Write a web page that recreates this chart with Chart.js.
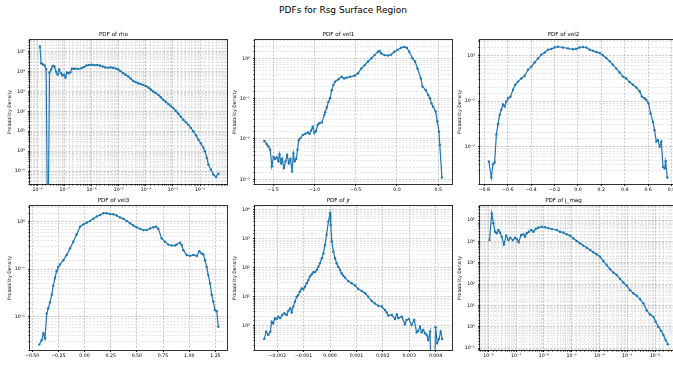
<!DOCTYPE html>
<html><head><meta charset="utf-8">
<script src="https://cdn.jsdelivr.net/npm/chart.js@4"></script>
<style>
html,body{margin:0;padding:0;background:#fff;overflow:hidden;}
#wrap{position:relative;width:673px;height:365px;overflow:hidden;background:#fff;}
#title{position:absolute;left:0;width:686px;top:5px;line-height:10px;text-align:center;font-family:"DejaVu Sans";font-size:9px;color:#000;}
canvas{position:absolute;}
</style></head><body>
<div id="wrap"><div id="title">PDFs for Rsg Surface Region</div></div>
<script>
// ---- data ----
const rhoX = [1.22e-8,1.35e-8,1.58e-8,1.82e-8,2.07e-8,2.4e-8,2.75e-8,3.16e-8,3.63e-8,4.17e-8,4.79e-8,5.5e-8,6.3e-8,7.24e-8,8.3e-8,9.55e-8,1.07e-7,1.23e-7,1.41e-7,1.62e-7,1.86e-7,2.14e-7,2.51e-7,3.16e-7,3.98e-7,5.0e-7,6.3e-7,7.9e-7,1.0e-6,1.26e-6,1.58e-6,2.0e-6,2.51e-6,3.16e-6,3.98e-6,5.0e-6,6.3e-6,7.9e-6,9.5e-6,1.17e-5,1.45e-5,1.78e-5,2.24e-5,2.75e-5,3.39e-5,4.17e-5,5.25e-5,6.46e-5,7.9e-5,1.0e-4,1.23e-4,1.51e-4,1.86e-4,2.29e-4,2.88e-4,3.55e-4,4.37e-4,5.37e-4,6.76e-4,8.3e-4,1.02e-3,1.26e-3,1.58e-3,1.95e-3,2.4e-3,3.02e-3,3.72e-3,4.57e-3,5.6e-3,7.1e-3,8.7e-3,1.07e-2,1.32e-2,1.51e-2,1.78e-2,2.04e-2,2.51e-2,3.09e-2,3.89e-2,4.79e-2];
const rhoY = [1.8e5,2.6e4,2.3e4,2.0e4,1.3e4,0,8.9e3,1.26e4,1.9e4,1.8e4,1.0e4,7.1e3,1.26e4,8.3e3,6.3e3,6.9e3,5.0e3,8.9e3,8.3e3,9.1e3,1.41e4,1.38e4,1.41e4,1.35e4,1.45e4,1.66e4,2.0e4,2.14e4,2.2e4,2.1e4,2.14e4,2.0e4,1.8e4,1.62e4,1.58e4,1.62e4,1.55e4,1.41e4,1.26e4,1.05e4,8.3e3,6.9e3,5.6e3,4.4e3,3.4e3,2.95e3,2.6e3,2.34e3,2.14e3,1.86e3,1.58e3,1.26e3,1.0e3,832,676,513,380,302,234,186,148,107,76,54,38,28,21,14.8,10,6.3,3.8,2.5,1.5,1.0,0.47,0.21,0.12,0.068,0.05,0.074];

const vel1X = [-1.606,-1.577,-1.557,-1.536,-1.516,-1.496,-1.476,-1.456,-1.435,-1.423,-1.403,-1.39,-1.37,-1.35,-1.33,-1.31,-1.29,-1.27,-1.255,-1.24,-1.22,-1.205,-1.19,-1.17,-1.14,-1.11,-1.08,-1.06,-1.04,-1.02,-1.0,-0.98,-0.96,-0.94,-0.91,-0.88,-0.87,-0.85,-0.83,-0.81,-0.79,-0.77,-0.75,-0.71,-0.67,-0.64,-0.61,-0.57,-0.51,-0.47,-0.43,-0.39,-0.35,-0.31,-0.27,-0.23,-0.21,-0.19,-0.15,-0.11,-0.07,-0.03,0.01,0.05,0.09,0.12,0.15,0.19,0.22,0.25,0.29,0.31,0.35,0.38,0.40,0.42,0.44,0.47,0.49,0.51,0.52,0.546];
const vel1Y = [0.0089,0.0074,0.0065,0.0054,0.0021,0.0036,0.0032,0.0035,0.0028,0.0042,0.0025,0.0032,0.0019,0.0028,0.0040,0.0025,0.0032,0.00155,0.0044,0.0028,0.0032,0.0054,0.0093,0.0105,0.0126,0.0135,0.0145,0.0135,0.0162,0.020,0.0141,0.0158,0.0224,0.0245,0.0257,0.039,0.046,0.060,0.083,0.102,0.162,0.219,0.263,0.302,0.347,0.316,0.331,0.347,0.372,0.427,0.562,0.676,0.832,1.0,1.20,1.45,1.51,1.32,1.20,1.17,1.23,1.45,1.62,1.82,1.91,1.82,1.45,1.0,0.83,0.56,0.316,0.20,0.162,0.123,0.102,0.076,0.063,0.048,0.027,0.0151,0.0071,0.0011];

const vel2X = [-0.761,-0.740,-0.726,-0.712,-0.697,-0.683,-0.669,-0.655,-0.640,-0.626,-0.612,-0.597,-0.577,-0.555,-0.535,-0.512,-0.484,-0.455,-0.427,-0.398,-0.370,-0.341,-0.313,-0.284,-0.256,-0.227,-0.199,-0.170,-0.128,-0.085,-0.043,-0.014,0.014,0.043,0.071,0.100,0.128,0.157,0.185,0.214,0.242,0.271,0.299,0.328,0.356,0.385,0.413,0.442,0.470,0.499,0.527,0.547,0.570,0.584,0.604,0.621,0.641,0.655,0.670,0.684,0.698,0.713,0.727,0.741,0.750,0.764];
const vel2Y = [0.0047,0.0021,0.0041,0.0045,0.0186,0.031,0.050,0.065,0.085,0.076,0.098,0.115,0.126,0.178,0.229,0.269,0.316,0.363,0.49,0.575,0.71,0.87,1.05,1.17,1.35,1.41,1.51,1.58,1.51,1.45,1.38,1.41,1.51,1.55,1.51,1.35,1.29,1.20,1.15,1.02,0.89,0.76,0.63,0.525,0.427,0.347,0.316,0.263,0.229,0.20,0.166,0.126,0.115,0.107,0.089,0.054,0.035,0.023,0.0129,0.0141,0.010,0.0129,0.0036,0.0033,0.0048,0.0021];

const vel3X = [-0.432,-0.409,-0.393,-0.377,-0.361,-0.346,-0.330,-0.313,-0.298,-0.282,-0.266,-0.250,-0.234,-0.202,-0.170,-0.138,-0.107,-0.075,-0.043,-0.011,0.021,0.053,0.084,0.117,0.148,0.180,0.212,0.244,0.275,0.308,0.339,0.371,0.403,0.435,0.466,0.499,0.530,0.562,0.594,0.626,0.657,0.683,0.705,0.737,0.769,0.800,0.833,0.864,0.880,0.912,0.928,0.944,0.976,1.008,1.039,1.072,1.096,1.119,1.135,1.151,1.167,1.182,1.199,1.215,1.230,1.246,1.263,1.278];
const vel3Y = [0.0026,0.0032,0.0045,0.0035,0.0117,0.0151,0.020,0.029,0.045,0.066,0.091,0.112,0.126,0.155,0.20,0.275,0.38,0.537,0.785,0.88,0.955,1.035,1.15,1.29,1.38,1.51,1.51,1.45,1.43,1.35,1.23,1.15,1.035,0.93,0.83,0.76,0.71,0.67,0.67,0.72,0.76,0.79,0.71,0.447,0.38,0.33,0.316,0.316,0.33,0.363,0.324,0.251,0.20,0.19,0.20,0.19,0.24,0.214,0.204,0.155,0.112,0.076,0.050,0.029,0.021,0.0138,0.0132,0.0062];

const jrX = [-0.00249,-0.00242,-0.00234,-0.00226,-0.00221,-0.00215,-0.00208,-0.00202,-0.00196,-0.00189,-0.00181,-0.00173,-0.00164,-0.00158,-0.00150,-0.00145,-0.00139,-0.00133,-0.00126,-0.00120,-0.00114,-0.00107,-0.00101,-0.00095,-0.00088,-0.00082,-0.00076,-0.00069,-0.00063,-0.00057,-0.00050,-0.00044,-0.00038,-0.00031,-0.00025,-0.00019,-0.00013,-0.00006,0.0,0.00003,0.00007,0.00013,0.00019,0.00025,0.00031,0.00038,0.00044,0.00050,0.00057,0.00069,0.00082,0.00095,0.00107,0.00120,0.00133,0.00145,0.00158,0.00170,0.00183,0.00196,0.00208,0.00215,0.00221,0.00234,0.00246,0.00253,0.00259,0.00272,0.00284,0.00290,0.00299,0.00309,0.00319,0.00328,0.00334,0.00341,0.00347,0.00353,0.00360,0.00366,0.00372,0.00379,0.00388,0.00400,0.00406,0.00413,0.00419,0.00425];
const jrY = [0.35,0.62,0.48,0.62,1.38,1.20,1.82,1.70,2.04,1.82,2.34,2.69,2.34,3.24,3.98,2.88,4.57,6.76,10,11.5,15.1,19.5,18.2,22.4,29.5,38,50,60,71,71,85,110,145,214,316,617,1380,3980,7760,3020,813,363,214,145,110,85,65,54,46,35,29.5,24.5,18.6,15.8,13.2,10,7.1,5.9,4.9,4.6,3.47,2.88,2.24,2.34,1.70,2.45,1.82,2.04,1.12,1.58,1.70,1.05,1.58,0.59,0.66,0.93,0.59,0.71,0.55,0.48,0.32,0.62,0,0.89,0.25,0.35,0.62,0.35];

const jmagX = [1.10e-8,1.32e-8,1.51e-8,1.74e-8,2.0e-8,2.29e-8,2.63e-8,3.02e-8,3.63e-8,4.37e-8,5.25e-8,6.17e-8,7.59e-8,9.12e-8,1.07e-7,1.23e-7,1.51e-7,1.82e-7,2.09e-7,2.40e-7,2.88e-7,3.47e-7,4.17e-7,5.13e-7,6.31e-7,8.3e-7,1.10e-6,1.45e-6,1.91e-6,2.88e-6,3.80e-6,5.0e-6,6.6e-6,8.7e-6,1.15e-5,1.51e-5,2.0e-5,2.63e-5,3.47e-5,4.57e-5,6.0e-5,7.9e-5,1.05e-4,1.38e-4,1.82e-4,2.40e-4,3.16e-4,4.17e-4,5.5e-4,7.2e-4,9.5e-4,1.26e-3,1.66e-3,2.19e-3,2.88e-3,3.80e-3,5.0e-3,6.6e-3,8.7e-3,1.05e-2,1.32e-2,1.66e-2,2.0e-2,2.40e-2,2.88e-2];
const jmagY = [1.15e4,2.04e5,7.1e4,2.8e4,2.4e4,3.4e4,2.6e4,1.66e4,7.2e3,1.86e4,1.15e4,1.48e4,1.15e4,1.48e4,1.26e4,9.1e3,2.0e4,2.14e4,1.66e4,2.4e4,2.8e4,3.4e4,2.8e4,3.9e4,4.4e4,4.9e4,4.6e4,4.1e4,3.8e4,3.4e4,2.8e4,2.6e4,2.14e4,1.86e4,1.38e4,1.05e4,8.1e3,6.3e3,5.1e3,4.0e3,3.1e3,2.5e3,1.9e3,1.2e3,776,501,347,269,174,120,85,52,37,29,20,12.6,6.0,3.8,2.95,1.74,1.0,0.65,0.42,0.245,0.155];

const panelTitles = ['PDF of rho','PDF of vel1','PDF of vel2','PDF of vel3','PDF of jr','PDF of j_mag'];
const yAxisTitle = 'Probability Density';
const suptitle = 'PDFs for Rsg Surface Region';

// ---- axis ranges / tick steps ----
const xRanges = [[5.25e-9,0.0989],[-1.72,0.668],[-0.837,0.847],[-0.5205,1.361],[-0.002841,0.004621],[5.0e-9,0.0617]];
const yRanges = [[0.0224,3.85e5],[7.64e-4,2.84],[1.51e-3,2.21],[2.0e-3,2.14],[0.1445,1.374e4],[0.083,4.52e5]];
const xSteps = [null,0.5,0.2,0.25,0.001,null];
const xDecimals = [null,1,1,2,3,null];

// ---- layout (pixels) ----
const boxes = [
  {l:30,t:40},{l:255,t:40},{l:480,t:40},
  {l:30,t:206},{l:255,t:206},{l:480,t:206}
];
const BOX_W = 197, BOX_H = 144, Y_W = 30, T_H = 14, X_H = 16, R_P = 10;
const FONT = 'DejaVu Sans';
const BLUE = '#1f77b4';
const MAJOR = 'rgba(150,150,150,0.5)';
const MINOR = 'rgba(170,170,170,0.3)';

const SUP = {'-':'\u207B','0':'\u2070','1':'\u00B9','2':'\u00B2','3':'\u00B3','4':'\u2074','5':'\u2075','6':'\u2076','7':'\u2077','8':'\u2078','9':'\u2079'};
function pow10Label(v){
  const e = Math.log10(v), r = Math.round(e);
  if (Math.abs(e - r) > 1e-6) return '';
  return '10' + String(r).split('').map(ch => SUP[ch]).join('');
}
function linLabel(dec){
  return v => { let s = Number(v).toFixed(dec); if (parseFloat(s) === 0) s = (0).toFixed(dec); return s.replace('-', '\u2212'); };
}
const gridColor = c => (c.tick && c.tick.major === false) ? MINOR : MAJOR;
const tickColor = c => (c.tick && c.tick.major === false) ? 'rgba(0,0,0,0.45)' : 'rgba(0,0,0,0.85)';

document.getElementById('title').textContent = suptitle;

const framePlugin = {
  id: 'frame',
  afterDraw(chart){
    const {ctx, chartArea: a} = chart;
    ctx.save();
    ctx.strokeStyle = 'rgba(0,0,0,0.8)';
    ctx.lineWidth = 1;
    ctx.strokeRect(Math.round(a.left) - 0.5, Math.round(a.top) - 0.5, Math.round(a.right - a.left) + 1, Math.round(a.bottom - a.top) + 1);
    ctx.restore();
  }
};

const wrap = document.getElementById('wrap');
const series = [[rhoX,rhoY],[vel1X,vel1Y],[vel2X,vel2Y],[vel3X,vel3Y],[jrX,jrY],[jmagX,jmagY]];

series.forEach(([xs, ys], i) => {
  const box = boxes[i];
  const isLogX = xSteps[i] === null;
  const c = document.createElement('canvas');
  const w = Y_W + BOX_W + R_P, h = T_H + BOX_H + X_H;
  c.width = w; c.height = h;
  c.style.left = (box.l - Y_W) + 'px';
  c.style.top = (box.t - T_H) + 'px';
  c.style.width = w + 'px'; c.style.height = h + 'px';
  wrap.appendChild(c);

  // empty bins (value 0) cannot sit on a log axis: like matplotlib's clipping,
  // they are sent far below the visible range so the line drops off the bottom.
  const floorVal = yRanges[i][0] * 1e-4;

  const xScale = {
    type: isLogX ? 'logarithmic' : 'linear',
    min: xRanges[i][0], max: xRanges[i][1],
    afterFit(s){ s.height = X_H; },
    grid: { color: gridColor, lineWidth: 1, drawTicks: true, tickLength: 2, tickColor: tickColor, tickWidth: 1 },
    border: { display: false, dash: [2, 1.5] },
    ticks: {
      autoSkip: false, maxRotation: 0, minRotation: 0, padding: 1, color: '#000',
      font: { family: FONT, size: 4.7 },
      callback: isLogX ? (v => pow10Label(v)) : linLabel(xDecimals[i])
    }
  };
  if (!isLogX) { xScale.ticks.stepSize = xSteps[i]; xScale.ticks.includeBounds = false; }

  new Chart(c, {
    type: 'line',
    data: { datasets: [{
      data: xs.map((x, k) => ({x: x, y: ys[k] > 0 ? ys[k] : floorVal, empty: !(ys[k] > 0)})),
      borderColor: BLUE, backgroundColor: BLUE, borderWidth: 1.2,
      pointRadius: ctx => (ctx.raw && ctx.raw.empty) ? 0 : 1.2,
      pointBackgroundColor: BLUE, pointBorderWidth: 0,
      tension: 0, fill: false
    }]},
    options: {
      responsive: false, animation: false, devicePixelRatio: 1,
      layout: { padding: { left: 0, top: 0, right: R_P, bottom: 0 } },
      plugins: {
        legend: { display: false }, tooltip: { enabled: false },
        title: { display: true, text: panelTitles[i], color: '#000',
          font: { family: FONT, size: 5.6, weight: 'normal', lineHeight: '8px' },
          padding: { top: 4.5, bottom: 1.5 } }
      },
      scales: {
        x: xScale,
        y: {
          type: 'logarithmic',
          min: yRanges[i][0], max: yRanges[i][1],
          afterFit(s){ s.width = Y_W; },
          grid: { color: gridColor, lineWidth: 1, drawTicks: true, tickLength: 2, tickColor: tickColor, tickWidth: 1 },
          border: { display: false, dash: [2, 1.5] },
          title: { display: true, text: yAxisTitle, color: '#000',
            font: { family: FONT, size: 4.7, lineHeight: '6px' }, padding: { top: 7, bottom: 0 } },
          ticks: { autoSkip: false, padding: 3, color: '#000', font: { family: FONT, size: 4.7 },
            callback: v => pow10Label(v) }
        }
      }
    },
    plugins: [framePlugin]
  });
});
</script>
</body></html>
